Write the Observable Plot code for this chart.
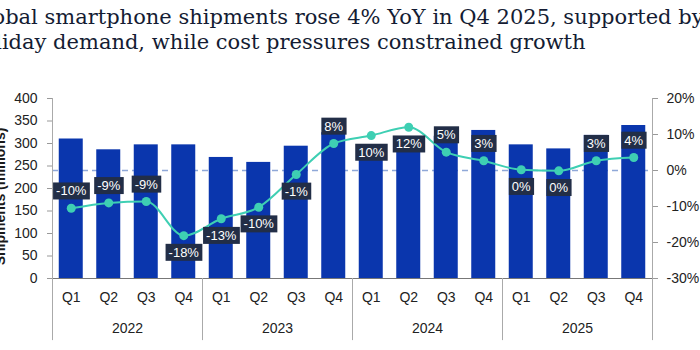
<!DOCTYPE html>
<html>
<head>
<meta charset="utf-8">
<script src="https://cdn.jsdelivr.net/npm/d3@7"></script>
<script src="https://cdn.jsdelivr.net/npm/@observablehq/plot@0.6"></script>
<style>
  body { margin: 0; width: 700px; height: 350px; overflow: hidden; background: #fff; font-family: "Liberation Sans", Arial, sans-serif; }
  #title { position: relative; height: 62px; white-space: nowrap; }
  #title div { position: absolute; left: -31px; top: 5px; font-family: "DejaVu Serif", serif; font-size: 21px; line-height: 25px; color: #141c33; }
  #chart svg { display: block; overflow: visible; }
</style>
</head>
<body>
<div id="title"><div>Global smartphone shipments rose 4% YoY in Q4 2025, supported by<br>holiday demand, while cost pressures constrained growth</div></div>
<div id="chart"></div>
<script>
// ---- data ----
const years = ["2022", "2023", "2024", "2025"];
const quarters = ["Q1", "Q2", "Q3", "Q4"];
const shipments = [310, 286, 297, 297, 269, 258, 294, 324, 289, 285, 316, 329, 297, 288, 318, 340];
const yoy = [-10.5, -9.0, -8.6, -18.1, -13.4, -10.2, -1.1, 7.5, 9.7, 12.0, 5.1, 2.7, 0.2, -0.1, 2.7, 3.6];
const yoyLabels = ["-10%", "-9%", "-9%", "-18%", "-13%", "-10%", "-1%", "8%", "10%", "12%", "5%", "3%", "0%", "0%", "3%", "4%"];
const leftTicks = [0, 50, 100, 150, 200, 250, 300, 350, 400];
const rightTicks = [-30, -20, -10, 0, 10, 20];
const yLabel = "Shipments (millions)";

// ---- build table ----
const keys = [];
years.forEach(y => quarters.forEach(q => keys.push(`${y} ${q}`)));
const rows = keys.map((k, i) => ({key: k, ship: shipments[i], yoy: yoy[i], label: yoyLabels[i], i}));
// map percentage onto the left scale: -30% -> 0, 20% -> 400
const pct = p => (p + 30) * 8;
const below = new Set([3, 4, 5, 6, 8, 9, 12, 13]);

const W = 700, H = 288;
const bandHalf = (W - 52 - 48) / keys.length / 2;
const bottomExt = -138;

const barColor = "#0a36ad";
const lineColor = "#3ecfb3";
const boxColor = "#222e47";

const plot = Plot.plot({
  width: W,
  height: H,
  marginLeft: 52,
  marginRight: 48,
  marginTop: 36,
  marginBottom: 72,
  style: {fontFamily: "'Liberation Sans', Arial, sans-serif", fontSize: "14px", color: "#222", background: "transparent"},
  x: {domain: keys, padding: 0, round: false, label: null},
  y: {domain: [0, 400], label: null},
  marks: [
    // dashed zero-% line
    Plot.ruleY([pct(0)], {stroke: "#8fa8d8", strokeWidth: 1.3, strokeDasharray: "6,4"}),
    Plot.barY(rows, {x: "key", y: "ship", fill: barColor, insetLeft: 6.75, insetRight: 6.75}),
    // baseline
    Plot.ruleY([0], {stroke: "#777", strokeWidth: 1}),
    // left / right axis lines (extend under the labels)
    Plot.ruleX([keys[0]], {dx: -bandHalf, y1: 400, y2: bottomExt, stroke: "#aaa"}),
    Plot.ruleX([keys[keys.length - 1]], {dx: bandHalf, y1: 400, y2: bottomExt, stroke: "#aaa"}),
    // year separators
    Plot.ruleX(years.slice(1), {x: d => `${d} Q1`, dx: -bandHalf, y1: 0, y2: bottomExt, stroke: "#aaa"}),
    // axes
    Plot.axisY({ticks: leftTicks, tickSize: 5, tickPadding: 10, label: null, stroke: "#999", fill: "#222"}),
    Plot.axisY({anchor: "right", ticks: rightTicks.map(pct), tickFormat: v => `${v / 8 - 30}%`, tickSize: 5, tickPadding: 9, label: null, stroke: "#999", fill: "#222"}),
    Plot.axisX({tickSize: 0, tickPadding: 14, tickFormat: d => d.split(" ")[1], label: null, fill: "#222"}),
    Plot.text(years, {x: d => `${d} Q2`, dx: bandHalf, frameAnchor: "bottom", dy: 50.5, lineAnchor: "middle", fill: "#222", fontSize: 14}),
    // y label
    Plot.text([yLabel], {frameAnchor: "left", dx: -52, dy: 8, rotate: -90, text: d => d, textAnchor: "middle", lineAnchor: "middle", fontWeight: "bold", fontSize: 14, fill: "#1a1a1a"}),
    // YoY line
    Plot.line(rows, {x: "key", y: d => pct(d.yoy), stroke: lineColor, strokeWidth: 2, curve: "monotone-x"}),
    Plot.dot(rows, {x: "key", y: d => pct(d.yoy), r: 4.5, fill: lineColor}),
    Plot.text(rows.filter(d => !below.has(d.i)), {x: "key", y: d => pct(d.yoy), text: "label", dy: -17, fill: "#fff", fontSize: 13, className: "yoylab"}),
    Plot.text(rows.filter(d => below.has(d.i)), {x: "key", y: d => pct(d.yoy), text: "label", dy: 17, fill: "#fff", fontSize: 13, className: "yoylab"})
  ]
});

document.getElementById("chart").appendChild(plot);

// label boxes behind YoY texts
plot.querySelectorAll("g.yoylab text").forEach(t => {
  const b = t.getBBox();
  const r = document.createElementNS("http://www.w3.org/2000/svg", "rect");
  const padX = 3, padY = 1;
  r.setAttribute("x", b.x - padX);
  r.setAttribute("y", b.y - padY);
  r.setAttribute("width", b.width + 2 * padX);
  r.setAttribute("height", b.height + 2 * padY);
  r.setAttribute("fill", boxColor);
  const tr = t.getAttribute("transform");
  if (tr) r.setAttribute("transform", tr);
  t.parentNode.insertBefore(r, t);
});
</script>
</body>
</html>
